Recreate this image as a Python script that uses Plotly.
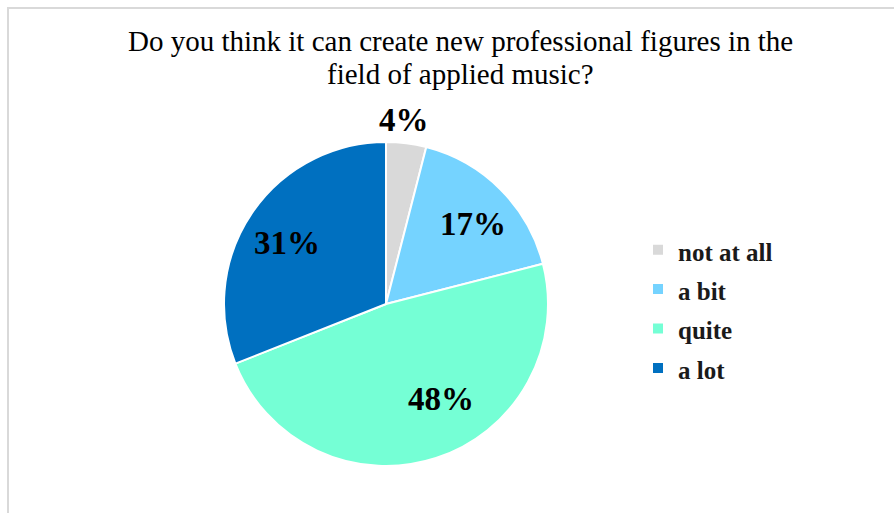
import math
import plotly.graph_objects as go

# Survey answers and their shares (%)
categories = ["not at all", "a bit", "quite", "a lot"]
shares = [4, 17, 48, 31]
slice_colors = ["#D9D9D9", "#75D3FF", "#75FFD5", "#0070C0"]
# radial placement of each percentage label, as a fraction of the pie radius
label_radius = [1.14, 0.73, 0.68, 0.72]
# angular nudge (degrees) of each label away from its slice's mid-angle
label_nudge = [-1.5, 2.5, -12.0, -2.5]

title_lines = [
    "Do you think it can create new professional figures in the",
    "field of applied music?",
]

W, H = 894, 513
pie_x = [224 / W, 548 / W]
pie_y = [1 - 466 / H, 1 - 142 / H]

# legend entries: larger legend font keeps the rows spaced apart, span sets the visible size
legend_labels = [f'<span style="font-size:25px">{c}</span>' for c in categories]

fig = go.Figure(
    go.Pie(
        labels=legend_labels,
        values=shares,
        sort=False,
        direction="clockwise",
        rotation=0,
        marker=dict(colors=slice_colors, line=dict(color="white", width=2)),
        textinfo="none",
        domain=dict(x=pie_x, y=pie_y),
        showlegend=True,
    )
)

# percentage labels placed around the pie from the cumulative shares
cx = (pie_x[0] + pie_x[1]) / 2 * W
cy = (pie_y[0] + pie_y[1]) / 2 * H
R = (pie_x[1] - pie_x[0]) * W / 2
total = sum(shares)
annotations = []
cum = 0
for v, rf, nudge in zip(shares, label_radius, label_nudge):
    mid = (cum + v / 2) / total * 360 + nudge
    cum += v
    ang = math.radians(mid)
    px = cx + rf * R * math.sin(ang)
    py = cy + rf * R * math.cos(ang)
    annotations.append(
        dict(
            x=px / W,
            y=py / H,
            xref="paper",
            yref="paper",
            text=f"{round(v / total * 100)}%",
            showarrow=False,
            xanchor="center",
            yanchor="middle",
            font=dict(family="Liberation Serif", size=33, color="black", weight="bold"),
        )
    )

# two-line title
for i, line in enumerate(title_lines):
    annotations.append(
        dict(
            x=460 / W,
            y=1 - (41 + 33 * i) / H,
            xref="paper",
            yref="paper",
            text=line,
            showarrow=False,
            xanchor="center",
            yanchor="middle",
            font=dict(family="Liberation Serif", size=29, color="black"),
        )
    )

fig.update_layout(
    width=W,
    height=H,
    margin=dict(l=0, r=0, t=0, b=0),
    paper_bgcolor="white",
    annotations=annotations,
    legend=dict(
        x=638 / W,
        xanchor="left",
        y=1 - 309 / H,
        yanchor="middle",
        font=dict(family="Liberation Serif", size=28, color="#1a1a1a", weight="bold"),
        bgcolor="rgba(0,0,0,0)",
    ),
    shapes=[
        dict(
            type="rect",
            xref="paper",
            yref="paper",
            x0=8 / W,
            x1=1.02,
            y0=-0.02,
            y1=1 - 8 / H,
            line=dict(color="#D9D9D9", width=2),
            fillcolor="rgba(0,0,0,0)",
            layer="below",
        )
    ],
)

fig.write_html("out.html")
